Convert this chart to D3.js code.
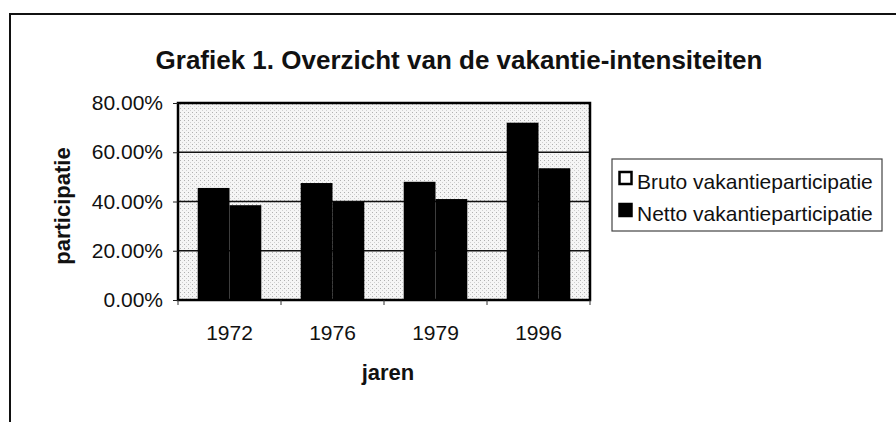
<!DOCTYPE html>
<html>
<head>
<meta charset="utf-8">
<script src="https://cdn.jsdelivr.net/npm/d3@7"></script>
<style>
  body { margin: 0; background: #fff; }
  svg { font-family: "Liberation Sans", Arial, sans-serif; }
</style>
</head>
<body>
<svg id="chart" width="896" height="422"></svg>
<script>
// data
const years = ["1972", "1976", "1979", "1996"];
const series = ["Bruto vakantieparticipatie", "Netto vakantieparticipatie"];
const bruto = [45.5, 47.5, 48, 72];
const netto = [38.5, 40, 41, 53.5];
const yTicks = [0, 20, 40, 60, 80];
const titleText = "Grafiek 1. Overzicht van de vakantie-intensiteiten";

var svg = d3.select("#chart");

// outer frame (runs off the right / bottom edge)
svg.append("rect")
  .attr("x", 10).attr("y", 14)
  .attr("width", 900).attr("height", 420)
  .attr("fill", "none").attr("stroke", "#111").attr("stroke-width", 2);

var plot = { left: 178, right: 590, top: 103, bottom: 300 };

var x0 = d3.scaleBand().domain(years).range([plot.left, plot.right]).padding(0);
var x1 = d3.scaleBand().domain(series).range([0, x0.bandwidth()])
  .paddingInner(0).paddingOuter(0.62);
var y = d3.scaleLinear().domain([0, 80]).range([plot.bottom, plot.top]);

// dotted grey plot background
var defs = svg.append("defs");
var pat = defs.append("pattern").attr("id", "stip")
  .attr("width", 4).attr("height", 4).attr("patternUnits", "userSpaceOnUse");
pat.append("rect").attr("width", 4).attr("height", 4).attr("fill", "#f5f5f5");
pat.append("rect").attr("x", 0).attr("y", 0).attr("width", 1).attr("height", 1).attr("fill", "#b0b0b0");
pat.append("rect").attr("x", 2).attr("y", 2).attr("width", 1).attr("height", 1).attr("fill", "#cfcfcf");

svg.append("rect")
  .attr("x", plot.left).attr("y", plot.top)
  .attr("width", plot.right - plot.left).attr("height", plot.bottom - plot.top)
  .attr("fill", "url(#stip)");

// gridlines
svg.append("g").selectAll("line")
  .data(yTicks.filter(d => d > 0 && d < 80))
  .join("line")
  .attr("x1", plot.left).attr("x2", plot.right)
  .attr("y1", d => y(d)).attr("y2", d => y(d))
  .attr("stroke", "#111").attr("stroke-width", 1.6);

// bars
var rows = years.map((yr, i) => ({ year: yr, vals: [bruto[i], netto[i]] }));
svg.append("g").selectAll("g")
  .data(rows)
  .join("g")
  .attr("transform", d => "translate(" + x0(d.year) + ",0)")
  .selectAll("rect")
  .data(d => d.vals.map((v, j) => ({ key: series[j], v: v })))
  .join("rect")
  .attr("x", d => x1(d.key))
  .attr("y", d => y(d.v))
  .attr("width", x1.bandwidth())
  .attr("height", d => y(0) - y(d.v))
  .attr("fill", "#000");

// plot border
svg.append("rect")
  .attr("x", plot.left).attr("y", plot.top)
  .attr("width", plot.right - plot.left).attr("height", plot.bottom - plot.top)
  .attr("fill", "none").attr("stroke", "#000").attr("stroke-width", 2.5);

// y axis
var yAxis = svg.append("g")
  .attr("transform", "translate(" + plot.left + ",0)")
  .call(d3.axisLeft(y).tickValues(yTicks).tickSize(5).tickPadding(10)
    .tickFormat(d => d3.format(".2f")(d) + "%"));
yAxis.select(".domain").remove();
yAxis.selectAll("text").attr("font-size", 21).attr("fill", "#111")
  .attr("font-family", "Liberation Sans, Arial, sans-serif");
yAxis.selectAll("line").attr("stroke", "#222");

// x axis: ticks on category borders, labels centred
var xAxis = svg.append("g")
  .attr("transform", "translate(0," + plot.bottom + ")")
  .call(d3.axisBottom(x0).tickSize(0).tickPadding(25));
xAxis.select(".domain").remove();
xAxis.selectAll("text").attr("font-size", 21).attr("fill", "#111")
  .attr("font-family", "Liberation Sans, Arial, sans-serif");

var borders = years.map(d => x0(d)).concat([x0(years[years.length - 1]) + x0.bandwidth()]);
svg.append("g").selectAll("line")
  .data(borders)
  .join("line")
  .attr("x1", d => d).attr("x2", d => d)
  .attr("y1", plot.bottom).attr("y2", plot.bottom + 5)
  .attr("stroke", "#333").attr("stroke-width", 1);

// titles
svg.append("text")
  .attr("x", 459).attr("y", 69)
  .attr("text-anchor", "middle")
  .attr("font-size", 26).attr("font-weight", "bold")
  .attr("fill", "#111")
  .text(titleText);

svg.append("text")
  .attr("x", (plot.left + plot.right) / 2 + 4).attr("y", 380)
  .attr("text-anchor", "middle")
  .attr("font-size", 22).attr("font-weight", "bold").attr("fill", "#111")
  .text("jaren");

svg.append("text")
  .attr("transform", "translate(70,206) rotate(-90)")
  .attr("text-anchor", "middle")
  .attr("font-size", 22).attr("font-weight", "bold").attr("fill", "#111")
  .text("participatie");

// legend
var lg = svg.append("g").attr("transform", "translate(612,159)");
lg.append("rect")
  .attr("width", 270).attr("height", 72)
  .attr("fill", "#fff").attr("stroke", "#444").attr("stroke-width", 1.2);
var item = lg.selectAll("g")
  .data(series)
  .join("g")
  .attr("transform", (d, i) => "translate(6," + (22 + i * 32) + ")");
item.append("rect")
  .attr("x", 1.5).attr("y", -9)
  .attr("width", 12).attr("height", 12)
  .attr("fill", (d, i) => i === 0 ? "#fff" : "#000")
  .attr("stroke", "#000").attr("stroke-width", 2.5);
item.append("text")
  .attr("x", 19).attr("y", 8)
  .attr("font-size", 21).attr("fill", "#111")
  .text(d => d);
</script>
</body>
</html>
